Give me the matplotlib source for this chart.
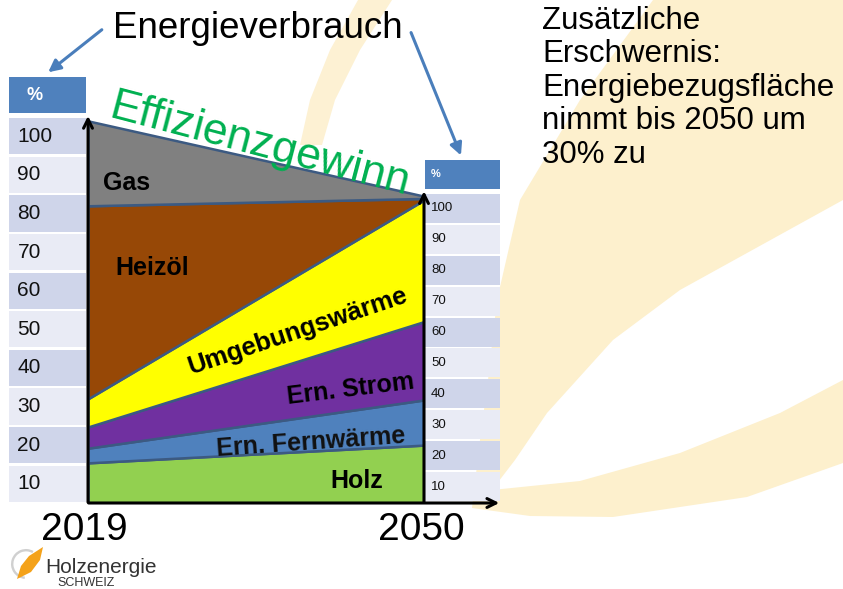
import matplotlib
matplotlib.use("Agg")
import matplotlib.pyplot as plt
from matplotlib.patches import Polygon, Wedge

plt.rcParams['font.family'] = ['Liberation Sans', 'DejaVu Sans']

# ---------------- data ----------------
years = [2019, 2050]
holz = [10.4, 15.0]
fernwaerme = [3.8, 11.7]
strom = [5.5, 20.3]
umgebung = [7.3, 31.5]
heizoel = [50.0, 0.4]
gas = [22.0, 0.6]
series_names = ["Holz", "Ern. Fernwärme", "Ern. Strom", "Umgebungswärme", "Heizöl", "Gas"]
series_colors = ["#92D050", "#4F81BD", "#7030A0", "#FFFF00", "#974806", "#808080"]
scale_labels = [10, 20, 30, 40, 50, 60, 70, 80, 90, 100]

W, H = 843, 589
fig = plt.figure(figsize=(W / 100, H / 100), dpi=100)

def px_axes(x0, y0, x1, y1, **kw):
    """axes from pixel box (top-left origin)"""
    return fig.add_axes([x0 / W, (H - y1) / H, (x1 - x0) / W, (y1 - y0) / H], **kw)

# ---------------- background decoration ----------------
bg = px_axes(0, 0, W, H, zorder=0)
bg.set_xlim(0, W); bg.set_ylim(H, 0); bg.axis("off")
flame = [(653, 0), (843, 0), (843, 200), (747, 253), (680, 290), (613, 340), (547, 413),
         (515, 460), (492, 490),
         (580, 481), (680, 453), (780, 413), (843, 380),
         (843, 463), (747, 497), (613, 517), (530, 516), (472, 508),
         (480, 440), (488, 380), (497, 300), (520, 200), (580, 100)]
bg.add_patch(Polygon(flame, closed=True, facecolor="#FDF0CD", edgecolor="none"))
stripe = [(358, 0), (392, 0), (360, 50), (335, 100), (322, 145), (300, 145), (310, 100), (330, 50)]
bg.add_patch(Polygon(stripe, closed=True, facecolor="#FDF1D3", edgecolor="none"))

# ---------------- main stacked area ----------------
ax = px_axes(88, 117, 424, 503, zorder=3)
ax.set_facecolor("none")
ax.stackplot(years, holz, fernwaerme, strom, umgebung, heizoel, gas,
             colors=series_colors, edgecolor="#3C5A82", linewidth=1.8)
ax.set_xlim(2019, 2050)
ax.set_ylim(0, 100)
ax.axis("off")
arrow = dict(arrowstyle="->", color="black", lw=2.2, mutation_scale=16)
ax.annotate("", xy=(2019, 101), xytext=(2019, -0.5), arrowprops=arrow, annotation_clip=False)
ax.annotate("", xy=(2050, 81.5), xytext=(2050, -0.5), arrowprops=arrow, annotation_clip=False)
ax.annotate("", xy=(2057.2, 0), xytext=(2018.8, 0), arrowprops=arrow, annotation_clip=False)

# ---------------- scale tables ----------------
def scale_table(x0, x1, y_hdr_top, y_hdr_bot, y_top, y_bot, fs, hdr_fs, tx, hx):
    unit = (y_bot - y_top) / 100.0
    ymax = (y_bot - y_hdr_top) / unit
    t = px_axes(x0, y_hdr_top, x1, y_bot, zorder=2)
    t.set_xlim(0, 1); t.set_ylim(0, ymax); t.axis("off")
    centers = [v - 5 for v in scale_labels]
    cols = ["#E9EBF5" if (i % 2 == 0) else "#CFD5EA" for i in range(len(scale_labels))]
    t.barh(centers, [1] * len(centers), height=9.4, left=0, color=cols, edgecolor="none")
    hb = (y_bot - y_hdr_bot) / unit
    t.barh([(hb + ymax) / 2], [1], height=ymax - hb, color="#4F81BD", edgecolor="none")
    for c, lab in zip(centers, scale_labels):
        t.text(tx, c, str(lab), fontsize=fs, va="center", ha="left", color="#111111")
    t.text(hx, (hb + ymax) / 2, "%", fontsize=hdr_fs, va="center", ha="left",
           color="white", fontweight="bold")

scale_table(9, 86, 77, 113, 117, 503, 15, 13, 0.11, 0.23)
scale_table(425, 500, 160, 189, 193, 502, 9.5, 8, 0.08, 0.08)

# ---------------- overlay texts ----------------
ov = px_axes(0, 0, W, H, zorder=5)
ov.set_facecolor("none")
ov.set_xlim(0, W); ov.set_ylim(H, 0); ov.axis("off")

def lab(x, y, s, fs, rot=0, **kw):
    ov.text(x, y, s, fontsize=fs, rotation=rot, rotation_mode="anchor",
            ha="center", va="center", **kw)

ov.text(103, 190, "Gas", fontsize=18, fontweight="bold", ha="left", va="baseline")
ov.text(115, 275, "Heizöl", fontsize=18, fontweight="bold", ha="left", va="baseline")
lab(298, 331, "Umgebungswärme", 18.5, rot=18.5, fontweight="bold")
lab(351, 389, "Ern. Strom", 18, rot=7, fontweight="bold")
lab(311, 442, "Ern. Fernwärme", 18, rot=4, fontweight="bold", color="#111111")
ov.text(330, 488, "Holz", fontsize=18, fontweight="bold", ha="left", va="baseline")
lab(260, 145, "Effizienzgewinn", 32, rot=-14.7, color="#00B050")

ov.text(113, 38, "Energieverbrauch", fontsize=26.5, ha="left", va="baseline")
ov.text(84, 540, "2019", fontsize=28, ha="center", va="baseline")
ov.text(421, 540, "2050", fontsize=28, ha="center", va="baseline")
ov.text(542, 6, "Zusätzliche\nErschwernis:\nEnergiebezugsfläche\nnimmt bis 2050 um\n30% zu",
        fontsize=22.5, ha="left", va="top", linespacing=1.15)

blue_arrow = dict(arrowstyle="-|>", color="#4A7EBB", lw=2.2, mutation_scale=18)
ov.annotate("", xy=(46, 74), xytext=(104, 28), arrowprops=blue_arrow)
ov.annotate("", xy=(462, 158), xytext=(410, 30), arrowprops=blue_arrow)

# ---------------- logo ----------------
ov.add_patch(Wedge((26, 564), 15, 95, 300, width=2.4, facecolor="#D0D0D0", edgecolor="none"))
ov.add_patch(Polygon([(17, 579), (21, 566), (29, 556), (43, 547), (40, 560), (31, 572)],
                     closed=True, facecolor="#F4A21A", edgecolor="none"))
ov.text(45, 573, "Holzenergie", fontsize=15, ha="left", va="baseline", color="#333333")
ov.text(57, 586, "SCHWEIZ", fontsize=9, ha="left", va="baseline", color="#333333")

fig.savefig("out.png", dpi=100)
